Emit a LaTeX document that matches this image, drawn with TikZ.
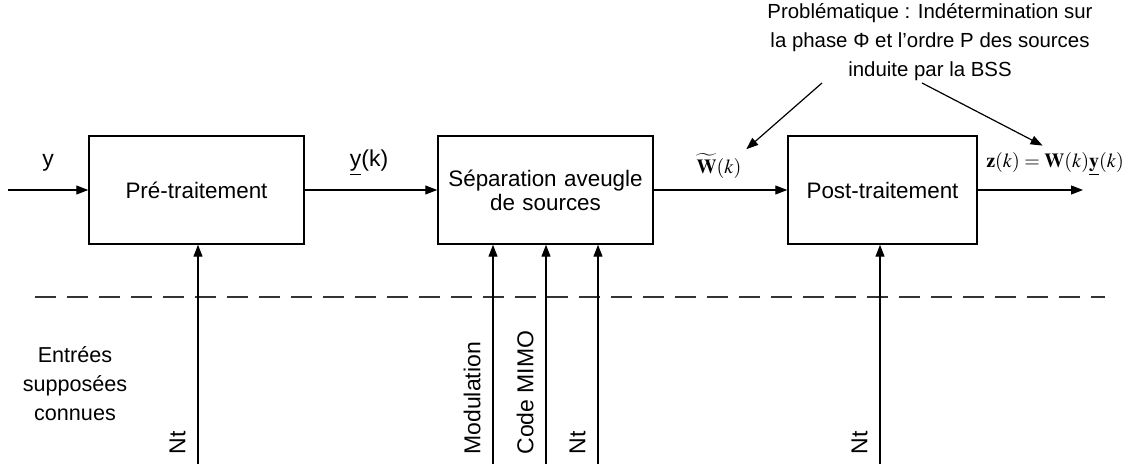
\documentclass[tikz,border=0pt]{standalone}
\usepackage{mathptmx}
\usepackage{fontspec}
\setmainfont{Liberation Sans}
\usetikzlibrary{arrows.meta}
\begin{document}
\begin{tikzpicture}[x=0.5pt,y=-0.5pt,
  box/.style={draw, line width=0.75pt, minimum height=54pt, align=center, font=\fontsize{11.2}{13}\selectfont, inner sep=0pt},
  arr/.style={-{Triangle[length=6pt,width=4.5pt]}, line width=0.6pt},
  lbl/.style={font=\fontsize{10}{12}\selectfont, inner sep=0pt},
  big/.style={font=\fontsize{11.5}{13}\selectfont, inner sep=0pt},
  rot/.style={big, rotate=90, anchor=south west}]
\useasboundingbox (0,0) rectangle (1143,464);
% boxes
\node[box, minimum width=107.5pt] (pre) at (196.5,190) {Pré-traitement};
\node[box, minimum width=107.5pt, text width=104pt] (sep) at (545.5,190) {Séparation aveugle\\[-1pt]de sources};
\node[box, minimum width=94.5pt] (post) at (882.5,190) {Post-traitement};
% horizontal flow
\coordinate (in) at (8,190);
\coordinate (out) at (1083,190);
\draw[arr] (in) -- (pre.west);
\draw[arr] (pre.east) -- (sep.west);
\draw[arr] (sep.east) -- (post.west);
\draw[arr] (post.east) -- (out);
\node[big] (ly) at (48,163) {y};
\node[big] (lyk) at (369,163) {\underline{y}(k)};
\node[lbl] (lw) at (719,166) {$\widetilde{\mathbf{W}}(k)$};
\node[lbl] (lz) at (1055,164) {$\mathbf{z}(k)=\mathbf{W}(k)\underline{\mathbf{y}}(k)$};
% problem statement
\node[lbl, align=center, font=\fontsize{10.2}{14.5}\selectfont] (prob) at (930,42) {Problématique : Indétermination sur\\la phase Φ et l’ordre P des sources\\induite par la BSS};
\coordinate (pa) at (822,83);
\coordinate (pb) at (922,83);
\draw[arr, shorten >=3pt] (pa) -- (lw.north east);
\draw[arr, shorten >=7pt] (pb) -- (lz.north);
% dashed separator
\coordinate (d1) at (35,297);
\coordinate (d2) at (1105,297);
\draw[line width=0.6pt, dash pattern=on 10.5pt off 5.5pt, draw=black!80] (d1) -- (d2);
% vertical inputs
\coordinate (v1) at (198,464);
\coordinate (v2) at (493,464);
\coordinate (v3) at (546,464);
\coordinate (v4) at (598,464);
\coordinate (v5) at (880,464);
\draw[arr] (v1) -- (v1 |- pre.south);
\draw[arr] (v2) -- (v2 |- sep.south);
\draw[arr] (v3) -- (v3 |- sep.south);
\draw[arr] (v4) -- (v4 |- sep.south);
\draw[arr] (v5) -- (v5 |- post.south);
\node[rot] (t1) at (186,455) {Nt};
\node[rot] (t2) at (481,455) {Modulation};
\node[rot] (t3) at (534,455) {Code MIMO};
\node[rot] (t4) at (586,455) {Nt};
\node[rot] (t5) at (868,455) {Nt};
\node[lbl, align=center, font=\fontsize{10.8}{14.5}\selectfont] (ent) at (75,384) {Entrées\\supposées\\connues};
\end{tikzpicture}
\end{document}
